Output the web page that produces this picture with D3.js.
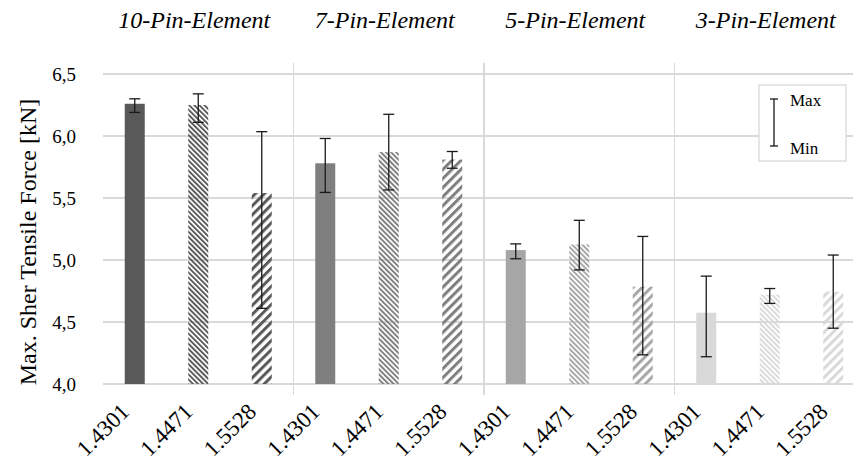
<!DOCTYPE html>
<html lang="en">
<head>
    <meta charset="UTF-8"/>
    <title>Max. shear tensile force</title>
    <script src="https://d3js.org/d3.v7.min.js" charset="utf-8"></script>
    <style type="text/css">
        body { margin: 0; background: #fff; }
        text { font-family: "Liberation Serif", "Times New Roman", serif; fill: #000; }
        .grid line { stroke: #d9d9d9; stroke-width: 1.3px; shape-rendering: crispEdges; }
        .err line { stroke: #1a1a1a; stroke-width: 1.3px; }
    </style>
</head>
<body>
<div id="chart"></div>
<script>
    // categories
    var groups = ["10-Pin-Element", "7-Pin-Element", "5-Pin-Element", "3-Pin-Element"];
    var materials = ["1.4301", "1.4471", "1.5528"];
    var yTicks = [4.0, 4.5, 5.0, 5.5, 6.0, 6.5];

    // mean values per group (order = materials)
    var meanValues = [
        [6.26, 6.25, 5.54],
        [5.78, 5.87, 5.81],
        [5.08, 5.125, 4.785],
        [4.575, 4.72, 4.745]
    ];
    var maxValues = [
        [6.30, 6.34, 6.035],
        [5.98, 6.175, 5.875],
        [5.13, 5.32, 5.19],
        [4.87, 4.77, 5.04]
    ];
    var minValues = [
        [6.19, 6.11, 4.61],
        [5.545, 5.565, 5.74],
        [5.01, 4.92, 4.235],
        [4.22, 4.65, 4.45]
    ];
    var groupColors = ["#595959", "#7f7f7f", "#a6a6a6", "#d9d9d9"];

    var width = 853, height = 467;
    var plot = {left: 103, right: 865, top: 74, bottom: 384};

    var svg = d3.select("#chart")
        .append("svg")
        .attr("width", width)
        .attr("height", height);

    // patterns
    var defs = svg.append("defs");
    groupColors.forEach(function (c, i) {
        var p1 = defs.append("pattern")
            .attr("id", "dense" + i)
            .attr("patternUnits", "userSpaceOnUse")
            .attr("width", 3.6).attr("height", 3.6)
            .attr("patternTransform", "rotate(-45)");
        p1.append("rect").attr("width", 1.9).attr("height", 3.6).attr("fill", c);

        var p2 = defs.append("pattern")
            .attr("id", "wide" + i)
            .attr("patternUnits", "userSpaceOnUse")
            .attr("width", 6.4).attr("height", 6.4)
            .attr("patternTransform", "rotate(45)");
        p2.append("rect").attr("width", 3).attr("height", 6.4).attr("fill", c);
    });

    function fillFor(gi, mi) {
        if (mi === 0) return groupColors[gi];
        if (mi === 1) return "url(#dense" + gi + ")";
        return "url(#wide" + gi + ")";
    }

    // scales
    var x0 = d3.scaleBand()
        .domain(groups)
        .range([plot.left, plot.right])
        .padding(0);

    var x1 = d3.scaleBand()
        .domain(materials)
        .range([0, x0.bandwidth()])
        .paddingInner(0.685)
        .paddingOuter(0.3425);

    var y = d3.scaleLinear()
        .domain([4, 6.5])
        .range([plot.bottom, plot.top]);

    // grid lines
    svg.append("g")
        .attr("class", "grid")
        .selectAll("line")
        .data(yTicks)
        .enter()
        .append("line")
        .attr("x1", plot.left)
        .attr("x2", width)
        .attr("y1", function (d) { return y(d); })
        .attr("y2", function (d) { return y(d); });

    // group separators
    svg.append("g")
        .attr("class", "grid")
        .selectAll("line")
        .data(groups.slice(1))
        .enter()
        .append("line")
        .attr("x1", function (d) { return x0(d); })
        .attr("x2", function (d) { return x0(d); })
        .attr("y1", 63)
        .attr("y2", 395);

    // y axis labels
    var yAxis = svg.append("g")
        .attr("transform", "translate(" + plot.left + ",0)")
        .call(d3.axisLeft(y).tickValues(yTicks).tickSize(0).tickPadding(27)
            .tickFormat(function (d) { return d3.format(".1f")(d).replace(".", ","); }));
    yAxis.select(".domain").remove();
    yAxis.selectAll("text")
        .style("font-family", "Liberation Serif")
        .style("font-size", "19px");

    // y axis title
    svg.append("text")
        .attr("transform", "translate(36," + ((plot.top + plot.bottom) / 2 + 13) + ")rotate(-90)")
        .attr("text-anchor", "middle")
        .style("font-size", "24px")
        .text("Max. Sher Tensile Force [kN]");

    // group titles
    svg.selectAll(".gtitle")
        .data(groups)
        .enter()
        .append("text")
        .attr("class", "gtitle")
        .attr("x", function (d) { return x0(d) + x0.bandwidth() / 2 - 4; })
        .attr("y", 28)
        .attr("text-anchor", "middle")
        .style("font-style", "italic")
        .style("font-size", "24px")
        .text(function (d) { return d; });

    // bars
    var g = svg.selectAll(".group")
        .data(groups)
        .enter()
        .append("g")
        .attr("class", "group")
        .attr("transform", function (d) { return "translate(" + x0(d) + ",0)"; });

    g.selectAll("rect")
        .data(function (d, gi) {
            return materials.map(function (m, mi) {
                return {gi: gi, mi: mi, m: m, v: meanValues[gi][mi], hi: maxValues[gi][mi], lo: minValues[gi][mi]};
            });
        })
        .enter()
        .append("rect")
        .attr("x", function (d) { return x1(d.m); })
        .attr("y", function (d) { return y(d.v); })
        .attr("width", x1.bandwidth())
        .attr("height", function (d) { return y(4) - y(d.v); })
        .attr("fill", function (d) { return fillFor(d.gi, d.mi); });

    // error bars
    var eb = g.selectAll(".err")
        .data(function (d, gi) {
            return materials.map(function (m, mi) {
                return {m: m, hi: maxValues[gi][mi], lo: minValues[gi][mi]};
            });
        })
        .enter()
        .append("g")
        .attr("class", "err")
        .attr("transform", function (d) { return "translate(" + (x1(d.m) + x1.bandwidth() / 2) + ",0)"; });
    eb.append("line")
        .attr("y1", function (d) { return y(d.hi); })
        .attr("y2", function (d) { return y(d.lo); });
    eb.append("line").attr("x1", -5.5).attr("x2", 5.5)
        .attr("y1", function (d) { return y(d.hi); })
        .attr("y2", function (d) { return y(d.hi); });
    eb.append("line").attr("x1", -5.5).attr("x2", 5.5)
        .attr("y1", function (d) { return y(d.lo); })
        .attr("y2", function (d) { return y(d.lo); });

    // x labels
    g.selectAll(".xl")
        .data(materials)
        .enter()
        .append("text")
        .attr("class", "xl")
        .attr("text-anchor", "end")
        .attr("transform", function (d) {
            return "translate(" + (x1(d) + x1.bandwidth() / 2 - 4) + ",413)rotate(-45)";
        })
        .style("font-size", "23px")
        .text(function (d) { return d; });

    // legend
    var lg = svg.append("g").attr("transform", "translate(759,85)");
    lg.append("rect")
        .attr("width", 87).attr("height", 76)
        .attr("fill", "#fff")
        .attr("stroke", "#d9d9d9")
        .attr("stroke-width", 1.3);
    var le = lg.append("g").attr("class", "err").attr("transform", "translate(15,0)");
    le.append("line").attr("y1", 14).attr("y2", 61);
    le.append("line").attr("x1", -4).attr("x2", 4).attr("y1", 14).attr("y2", 14);
    le.append("line").attr("x1", -4).attr("x2", 4).attr("y1", 61).attr("y2", 61);
    lg.append("text").attr("x", 31).attr("y", 21).style("font-size", "17px").text("Max");
    lg.append("text").attr("x", 31).attr("y", 69).style("font-size", "17px").text("Min");
</script>
</body>
</html>
